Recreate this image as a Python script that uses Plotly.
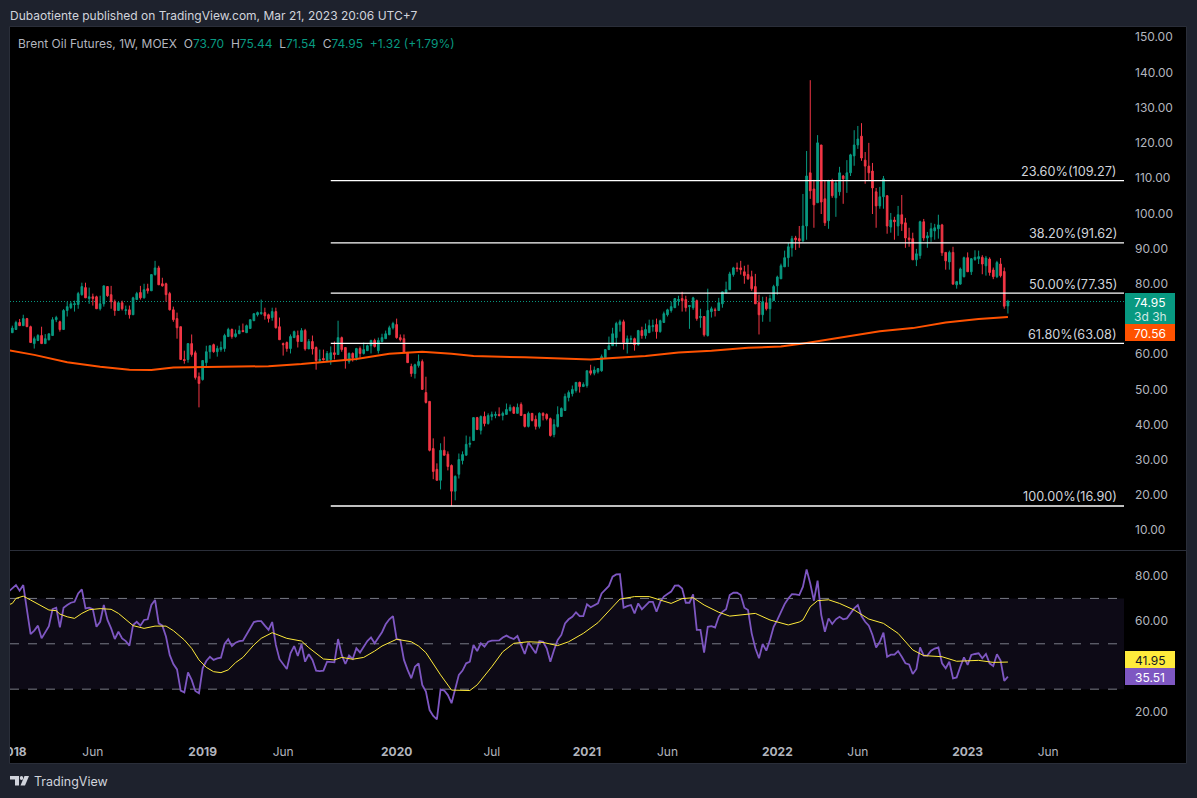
# Brent Oil Futures weekly chart with fib levels, EMA and RSI pane
import pandas as pd
import plotly.graph_objects as go

opens = [
    66.1, 67.0, 69.0, 68.1, 70.1, 67.8, 63.0, 63.9, 65.3, 63.0,
    64.1, 65.3, 69.8, 69.2, 67.0, 72.4, 73.2, 74.1, 74.1, 76.9,
    78.9, 75.8, 76.3, 76.3, 72.9, 74.3, 79.2, 76.9, 74.9, 72.4,
    74.6, 72.4, 72.6, 71.2, 75.5, 77.5, 76.0, 78.6, 78.0, 82.6,
    84.5, 80.0, 80.0, 77.2, 72.6, 70.1, 67.8, 58.5, 58.5, 63.0,
    60.4, 53.6, 52.8, 57.6, 60.7, 62.7, 60.7, 61.3, 61.6, 65.0,
    67.0, 65.0, 65.8, 66.7, 66.1, 67.3, 69.5, 71.2, 71.5, 71.8,
    71.2, 70.4, 72.1, 67.8, 63.0, 63.3, 61.6, 64.7, 65.3,
    63.6, 66.7, 61.5, 63.6, 61.9, 58.2, 58.8, 58.2, 58.5, 60.4,
    59.9, 64.7, 61.9, 57.9, 60.2, 59.0, 61.6, 60.2, 61.0, 62.4,
    63.9, 61.0, 63.6, 64.4, 65.5, 67.5, 68.4, 64.7, 64.4, 60.5,
    56.5, 54.5, 56.8, 57.9, 49.1, 46.6, 33.2, 27.3, 24.2, 32.7,
    31.6, 28.4, 21.1, 25.9, 29.8, 31.3, 34.4, 35.5, 42.0, 38.4,
    42.3, 40.3, 42.3, 42.6, 42.9, 42.6, 42.9, 44.0, 44.9, 43.2,
    45.7, 42.9, 39.5, 43.2, 41.5, 39.5, 43.2, 42.9, 41.7, 37.2,
    39.5, 42.3, 44.0, 47.7, 48.8, 49.7, 52.0, 50.8, 51.1,
    55.3, 54.6, 55.0, 55.3, 59.0, 61.3, 62.4, 64.7, 68.4, 69.2,
    63.3, 64.2, 64.4, 62.7, 66.7, 65.3, 66.1, 67.8, 68.4, 66.4,
    69.0, 71.2, 72.4, 73.2, 75.2, 75.8, 75.5, 73.5, 73.2, 75.2,
    70.4, 70.7, 65.3, 72.1, 72.6, 72.4, 74.3, 77.4, 78.3, 82.6,
    84.5, 84.5, 83.4, 82.6, 82.0, 79.2, 74.6, 71.2, 74.6, 72.9,
    75.2, 79.4, 81.4, 84.8, 87.4, 90.2, 93.0, 92.8, 92.2,
    96.4, 111.5, 106.9, 103.0, 119.4, 104.1, 97.9, 109.2, 104.4, 106.1,
    110.6, 109.5, 111.5, 116.3, 119.4, 121.9, 115.1, 113.4, 112.0, 106.1,
    102.1, 104.7, 105.0, 96.1, 98.1, 96.4, 99.6, 97.3, 93.0, 92.8,
    86.8, 88.0, 97.6, 93.0, 93.3, 95.0, 95.6, 96.7, 88.9, 86.2,
    88.9, 79.7, 79.9, 82.0, 87.4, 83.4, 86.9, 87.1, 87.5, 85.1,
    87.0, 83.9, 82.0, 85.6, 83.5, 73.70,
]
highs = [
    68.1, 69.5, 70.0, 71.2, 70.3, 68.1, 65.0, 65.7, 67.8, 65.7,
    65.8, 70.5, 70.9, 69.5, 72.8, 74.9, 74.9, 75.2, 77.7, 80.3,
    80.3, 78.9, 77.2, 76.6, 76.6, 79.4, 79.2, 79.4, 75.5, 74.9,
    75.2, 73.8, 73.8, 76.3, 77.7, 79.4, 80.0, 80.0, 82.6, 86.5,
    85.1, 81.7, 80.3, 77.7, 73.5, 71.8, 67.8, 61.0, 63.0, 65.6,
    61.0, 54.8, 58.2, 62.4, 62.4, 63.0, 62.4, 63.6, 65.8, 67.5,
    67.3, 67.0, 68.1, 68.7, 68.4, 69.8, 71.5, 72.1, 75.5, 73.2,
    71.5, 73.2, 73.2, 70.4, 63.3, 63.6, 65.6, 66.7, 66.7,
    67.4, 67.2, 64.3, 65.3, 62.2, 61.3, 61.3, 60.9, 62.2, 63.6,
    69.5, 65.0, 61.9, 60.5, 60.5, 61.8, 62.2, 63.3, 62.7, 64.1,
    64.4, 64.7, 65.8, 66.7, 68.1, 69.2, 70.1, 65.6, 65.6, 60.5,
    57.3, 57.3, 59.9, 58.5, 53.6, 46.6, 36.1, 29.0, 34.7, 36.6,
    32.4, 28.7, 25.6, 31.8, 32.4, 36.9, 36.6, 42.1, 42.2, 42.6,
    43.7, 43.2, 43.7, 43.7, 44.9, 43.7, 46.0, 45.7, 45.2, 46.0,
    46.3, 42.9, 43.7, 43.2, 42.6, 43.5, 43.5, 43.2, 42.0, 41.5,
    45.2, 44.9, 48.8, 49.7, 51.1, 52.0, 52.2, 52.0, 55.3,
    57.0, 56.5, 56.0, 59.9, 61.3, 65.0, 67.5, 69.2, 69.8, 69.8,
    65.3, 65.3, 64.7, 66.9, 67.8, 68.7, 69.8, 69.8, 70.1, 69.8,
    72.1, 72.9, 74.9, 75.8, 76.6, 77.7, 76.6, 73.8, 76.3, 75.5,
    72.9, 70.7, 78.6, 73.5, 73.2, 76.0, 77.7, 80.6, 83.4, 84.8,
    86.0, 86.5, 85.1, 85.4, 83.7, 82.8, 76.9, 76.3, 76.3, 76.9,
    79.7, 82.3, 85.7, 89.4, 91.6, 93.6, 93.6, 96.4, 105.5,
    117.7, 137.8, 109.5, 122.2, 119.4, 109.2, 109.5, 109.8, 109.2, 113.2,
    110.9, 115.1, 116.9, 123.6, 124.8, 125.6, 117.4, 120.0, 114.3, 107.2,
    107.5, 110.6, 105.0, 100.1, 99.0, 102.1, 105.2, 98.7, 95.9, 94.5,
    89.9, 97.9, 98.4, 94.7, 97.3, 97.0, 99.6, 97.0, 88.9, 89.4,
    90.5, 80.8, 84.6, 87.7, 88.9, 87.3, 89.5, 89.4, 88.1, 87.9,
    87.5, 84.6, 86.5, 87.3, 84.6, 75.44,
]
lows = [
    66.1, 67.0, 68.1, 68.1, 67.8, 63.3, 61.6, 63.7, 63.0, 63.0,
    63.9, 65.3, 69.1, 66.4, 67.0, 70.7, 72.8, 72.1, 72.9, 76.6,
    76.0, 74.3, 73.8, 72.9, 72.4, 73.5, 76.3, 72.9, 70.9, 72.4,
    72.4, 71.2, 70.1, 71.2, 75.5, 75.5, 75.8, 77.2, 78.0, 82.3,
    79.7, 79.2, 74.9, 72.4, 69.2, 64.4, 58.5, 57.3, 57.6, 59.3,
    52.8, 44.9, 52.5, 56.5, 58.7, 60.4, 59.3, 60.7, 60.7, 65.0,
    64.4, 64.7, 65.8, 66.4, 66.1, 67.3, 69.5, 70.7, 71.2, 69.8,
    69.0, 69.5, 67.3, 64.1, 59.6, 60.7, 60.2, 64.7, 61.9,
    63.6, 61.0, 61.5, 59.9, 55.6, 57.6, 58.2, 57.9, 57.0, 58.5,
    59.9, 60.7, 55.9, 57.3, 57.9, 58.2, 59.0, 59.9, 61.0, 60.2,
    61.9, 60.2, 63.3, 64.4, 65.5, 67.0, 64.4, 63.6, 60.5, 57.6,
    53.6, 53.1, 56.2, 50.0, 46.0, 32.4, 24.5, 24.2, 21.6, 31.3,
    27.0, 16.9, 18.5, 24.7, 28.7, 31.3, 33.5, 35.5, 38.6, 37.2,
    39.5, 40.0, 41.2, 41.8, 42.3, 41.2, 42.9, 43.7, 43.2, 43.2,
    42.6, 39.2, 39.2, 40.9, 38.6, 38.9, 41.2, 41.2, 36.6, 36.4,
    39.2, 42.3, 44.0, 46.6, 48.0, 49.1, 49.1, 50.8, 50.5,
    54.0, 54.0, 54.5, 55.0, 59.0, 61.3, 62.4, 62.2, 66.4, 61.3,
    60.2, 63.0, 61.0, 62.4, 64.4, 64.4, 66.1, 66.4, 64.4, 66.1,
    69.0, 70.7, 71.8, 73.2, 73.8, 72.1, 72.1, 67.2, 72.6, 69.5,
    67.5, 65.0, 65.0, 70.4, 70.7, 72.4, 73.2, 77.4, 78.3, 82.0,
    83.4, 82.6, 80.0, 81.1, 78.0, 74.3, 65.6, 69.2, 72.4, 69.2,
    75.2, 76.9, 81.4, 84.8, 84.8, 87.7, 89.6, 90.2, 91.9,
    92.5, 104.1, 95.9, 103.0, 99.8, 96.4, 95.6, 104.4, 99.0, 105.0,
    102.7, 105.8, 110.6, 113.5, 118.3, 114.9, 108.4, 109.2, 99.8, 95.9,
    101.3, 101.3, 94.2, 94.5, 92.5, 93.6, 95.0, 90.2, 90.5, 86.8,
    85.0, 87.1, 92.2, 90.2, 91.9, 92.5, 92.8, 87.9, 84.0, 84.0,
    79.7, 78.6, 79.7, 81.8, 83.4, 82.5, 86.5, 85.6, 82.7, 82.3,
    82.3, 81.3, 81.6, 81.8, 72.9, 71.54,
]
closes = [
    67.4, 69.0, 68.1, 70.1, 67.8, 63.3, 64.4, 65.3, 63.0, 64.4,
    65.8, 69.8, 70.4, 67.0, 72.4, 73.5, 74.3, 74.3, 77.2, 79.2,
    76.0, 76.3, 75.8, 72.9, 74.3, 79.4, 76.6, 74.9, 72.4, 74.6,
    72.9, 72.6, 71.2, 76.0, 77.2, 76.0, 78.3, 78.0, 82.6, 84.5,
    79.7, 79.4, 76.9, 72.6, 69.8, 67.5, 58.5, 58.2, 63.0, 59.9,
    53.4, 51.7, 58.2, 60.7, 62.4, 60.7, 61.6, 61.9, 65.3, 67.0,
    65.0, 65.8, 66.7, 66.4, 68.1, 69.8, 71.5, 71.8, 71.8, 70.9,
    70.1, 72.1, 67.5, 64.1, 62.7, 61.6, 65.0, 66.4, 63.6,
    66.7, 61.5, 63.6, 61.5, 58.2, 58.5, 58.4, 60.2, 60.4, 59.9,
    64.7, 61.3, 58.2, 60.2, 59.0, 61.6, 60.2, 61.3, 62.4, 63.9,
    62.2, 63.9, 64.7, 65.8, 67.5, 68.7, 64.7, 64.1, 60.5, 57.6,
    54.5, 57.0, 57.9, 50.0, 46.3, 32.7, 26.7, 24.2, 32.7, 31.3,
    28.1, 21.1, 25.3, 30.1, 31.5, 34.4, 34.7, 42.0, 38.6, 42.3,
    40.3, 42.6, 42.9, 42.9, 42.6, 43.2, 44.3, 44.9, 43.2, 44.9,
    42.6, 39.5, 43.2, 41.2, 39.5, 43.2, 42.6, 41.7, 36.9, 40.0,
    42.9, 44.6, 48.0, 49.1, 50.0, 52.0, 50.8, 51.4, 55.3,
    54.6, 55.5, 55.9, 59.3, 61.3, 62.4, 65.8, 68.7, 69.2, 63.3,
    64.4, 64.4, 62.7, 66.7, 65.3, 67.0, 68.1, 68.1, 66.4, 69.5,
    71.5, 72.6, 73.5, 75.8, 75.5, 75.2, 73.2, 73.8, 76.0, 70.1,
    70.7, 65.5, 72.4, 72.9, 72.4, 74.6, 77.7, 78.3, 82.8, 84.5,
    84.3, 84.0, 82.3, 81.4, 78.6, 74.3, 71.2, 74.9, 72.9, 75.8,
    79.2, 81.9, 85.1, 87.4, 90.5, 92.8, 92.5, 92.2, 96.4,
    110.6, 106.4, 102.4, 120.0, 103.2, 97.3, 109.2, 105.0, 108.6, 111.5,
    109.8, 111.5, 116.6, 119.4, 121.1, 115.7, 113.4, 111.5, 107.2, 102.1,
    104.7, 109.8, 96.4, 98.1, 97.6, 99.6, 97.0, 93.0, 92.5, 86.8,
    88.5, 97.6, 93.0, 93.6, 95.6, 95.9, 96.7, 88.8, 86.5, 88.9,
    79.9, 80.6, 84.2, 87.4, 83.4, 87.1, 87.5, 87.7, 85.6, 87.3,
    83.2, 82.0, 86.0, 82.3, 73.63, 74.95,
]
rsi = [
    74.4, 75.9, 73.4, 75.9, 64.9, 54.3, 55.8, 58.0, 52.4, 54.9,
    57.8, 65.3, 65.9, 57.2, 65.9, 67.1, 68.1, 68.5, 72.2, 74.0,
    65.6, 65.9, 65.3, 57.5, 59.7, 67.1, 60.5, 56.8, 52.1, 55.3,
    52.4, 51.2, 49.2, 58.3, 59.7, 58.0, 60.5, 60.8, 67.1, 69.3,
    59.0, 58.0, 53.1, 45.1, 41.1, 38.7, 29.4, 28.6, 37.4, 34.1,
    29.2, 28.2, 39.2, 42.4, 44.3, 42.9, 43.6, 43.9, 49.9, 52.0,
    49.0, 50.5, 51.2, 51.4, 54.3, 57.1, 59.6, 60.0, 60.0, 58.0,
    56.1, 59.6, 49.5, 43.2, 41.1, 38.9, 45.8, 49.0, 44.6, 49.8,
    42.1, 45.4, 42.9, 38.2, 38.0, 38.2, 42.1, 42.1, 41.8, 52.1,
    45.1, 41.1, 44.8, 43.3, 48.0, 46.2, 49.0, 51.2, 52.8, 50.2,
    52.7, 55.1, 58.6, 60.8, 62.2, 52.1, 51.7,
    42.9, 38.5, 34.8, 39.9, 41.4, 31.9, 28.9, 20.8, 18.2, 16.7,
    29.9, 29.4, 27.4, 23.8, 30.4, 36.3, 38.2, 41.4, 42.1, 49.5,
    46.8, 50.2, 48.7, 50.9, 51.4, 51.5, 51.5, 52.8, 53.6, 52.7,
    52.1, 53.4, 49.0, 45.5, 50.6, 48.0, 45.8, 51.2, 50.9, 48.0,
    42.1, 47.3, 51.7, 53.9, 59.0, 60.8, 61.9, 63.9, 62.2, 62.2,
    67.4, 66.1, 66.9, 67.8, 72.2, 74.1, 75.5, 79.6, 80.6, 80.7,
    65.9, 66.6, 67.1, 63.4, 67.8, 65.2, 67.1, 68.5, 68.5, 64.1,
    68.5, 70.8, 71.9, 73.0, 75.6, 75.7, 74.4, 68.1, 68.1, 71.8,
    56.1, 56.1, 46.1, 57.5, 57.8, 57.2, 61.9, 64.1, 65.2, 71.5,
    72.5, 72.5, 71.5, 65.9, 64.9, 54.6, 48.0, 43.6, 49.9, 47.0,
    51.7, 57.5, 60.5, 64.1, 67.5, 70.0, 71.9, 71.8, 71.5,
    75.2, 82.8, 76.6, 69.0, 77.8, 62.7, 55.3, 61.2, 58.7, 60.8,
    61.9, 60.8, 61.2, 63.4, 65.6, 67.1, 62.2, 59.7, 58.0, 53.9,
    48.4, 50.9, 54.9, 44.3, 45.2, 45.2, 46.8, 44.3, 41.4, 40.9,
    36.7, 38.9, 48.4, 44.8, 44.8, 47.0, 47.9, 48.4, 41.4, 39.2,
    42.1, 34.8, 35.2, 39.9, 44.0, 40.7, 45.1, 45.5, 45.8, 43.6,
    45.5, 41.4, 40.2, 45.4, 42.6, 33.7, 35.51,
]
rsi_before = 73.0  # bar just left of the chart edge

# smooth lines, read at the weeks where they could be read
ema_weeks = [-1, 0, 6, 15, 24, 32, 38, 44, 51, 60, 70, 79, 85, 94, 103, 108, 112, 120, 126,
             140, 149, 158, 164, 173, 182, 191, 201, 210, 217, 223, 230, 237, 246, 251,
             255, 264, 272]
ema_values = [61.1, 60.9, 59.8, 57.7, 56.4, 55.6, 55.5, 56.2, 56.3, 56.4, 56.6, 57.2, 57.7, 58.6, 60.1,
              60.5, 60.7, 60.1, 59.5, 59.1, 58.7, 58.5, 58.9, 59.5, 60.5, 61.0, 61.8, 62.2,
              63.2, 64.2, 65.3, 66.5, 67.4, 68.4, 69.0, 70.0, 70.56]
rsi_ma_weeks = [-1, 0, 1, 3, 5, 7, 9, 10, 12, 13, 15, 17, 19, 21, 24, 27, 29, 31, 33, 36, 39, 42, 44,
                47, 49, 51, 53, 55, 57, 59, 61, 63, 66, 68, 71, 75, 79, 81, 85, 88, 90, 93, 96,
                99, 101, 105, 109, 111, 113, 117, 120, 125, 127, 131, 134, 137, 141, 145, 149,
                152, 156, 160, 166, 170, 174, 180, 183, 186, 189, 193, 196, 203, 207, 212, 215,
                216, 218, 220, 223, 226, 230, 234, 238, 242, 246, 249, 254, 258, 264, 268, 272]
rsi_ma_values = [67.2, 67.8, 70.0, 71.0, 69.3, 67.4, 65.6, 64.9, 64.6, 63.1, 61.9, 61.2, 63.4, 65.0, 65.5,
                 65.2, 63.4, 60.5, 58.0, 56.8, 57.8, 57.8, 55.8, 51.7, 48.0, 42.9, 39.6, 37.7,
                 37.3, 38.5, 41.7, 44.0, 49.5, 52.4, 54.9, 52.4, 51.2, 48.3, 43.3, 42.9, 44.0,
                 43.2, 44.0, 46.8, 49.0, 52.0, 50.9, 49.0, 46.1, 36.3, 29.6, 29.4, 31.9, 39.9,
                 46.5, 50.2, 50.9, 50.6, 49.2, 50.9, 54.6, 59.3, 69.7, 70.8, 70.8, 67.8, 69.9,
                 70.3, 67.1, 63.9, 62.2, 63.4, 60.5, 58.3, 59.6, 60.5, 66.3, 69.0, 69.4, 67.8,
                 64.9, 60.9, 59.0, 54.6, 47.3, 44.8, 44.3, 42.3, 42.7, 41.8, 41.95]

fib_levels = [109.27, 91.62, 77.35, 63.08, 16.90]
fib_labels = ["23.60%(109.27)", "38.20%(91.62)", "50.00%(77.35)", "61.80%(63.08)", "100.00%(16.90)"]
price_ticks = [150, 140, 130, 120, 110, 100, 90, 80, 60, 50, 40, 30, 20, 10]
rsi_ticks = [80, 60, 20]
rsi_levels = [70, 50, 30]
time_ticks = ["2018-01-01", "2018-06-04", "2018-12-31", "2019-06-03", "2020-01-06", "2020-07-06",
              "2021-01-04", "2021-06-07", "2022-01-03", "2022-06-06", "2023-01-02", "2023-06-05"]
time_labels = ["<b>2018</b>", "Jun", "<b>2019</b>", "Jun", "<b>2020</b>", "Jul",
               "<b>2021</b>", "Jun", "<b>2022</b>", "Jun", "<b>2023</b>", "Jun"]

assert len(opens) == len(highs) == len(lows) == len(closes) == len(rsi) == 273
assert len(ema_weeks) == len(ema_values) and len(rsi_ma_weeks) == len(rsi_ma_values)

W, H = 1197, 798
BG = "#1e222d"
BORDER = "#2a2e39"
UP = "#089981"
DOWN = "#f23645"
TEXT = "#b2b5be"
MARK = "#d1d4dc"
FONT = "Inter"


def xp(px):
    return px / W


def yp(py):
    return 1 - py / H


first_week = pd.Timestamp("2018-01-01")
dates = pd.date_range(first_week, periods=len(closes), freq="7D")
ema_dates = [first_week + pd.Timedelta(weeks=i) for i in ema_weeks]
ma_dates = [first_week + pd.Timedelta(weeks=i) for i in rsi_ma_weeks]
rsi_dates = [first_week - pd.Timedelta(weeks=1)] + list(dates)
x_start = first_week - pd.Timedelta(days=4.4)
x_end = first_week + pd.Timedelta(days=2126)
fib_start = dates[87]

fig = go.Figure()
fig.add_trace(go.Candlestick(
    x=dates, open=opens, high=highs, low=lows, close=closes,
    increasing=dict(line=dict(color=UP, width=1), fillcolor=UP),
    decreasing=dict(line=dict(color=DOWN, width=1), fillcolor=DOWN),
    xaxis="x", yaxis="y",
))
fig.add_trace(go.Scatter(x=ema_dates, y=ema_values, mode="lines",
                         line=dict(color="#ff5200", width=2), xaxis="x", yaxis="y"))
for level in fib_levels:
    fig.add_trace(go.Scatter(x=[fib_start, x_end], y=[level, level], mode="lines",
                             line=dict(color="#ffffff", width=1.3), xaxis="x", yaxis="y"))
fig.add_trace(go.Scatter(x=rsi_dates, y=[rsi_before] + rsi, mode="lines",
                         line=dict(color="#7e57c2", width=1.8), xaxis="x", yaxis="y2"))
fig.add_trace(go.Scatter(x=ma_dates, y=rsi_ma_values, mode="lines",
                         line=dict(color="#ffeb3b", width=1), xaxis="x", yaxis="y2"))

shapes = [
    # black chart panel and pane separator
    dict(type="rect", xref="paper", yref="paper", x0=xp(9.5), x1=xp(1186.5), y0=yp(763.5), y1=yp(26.5),
         fillcolor="#000000", line=dict(color=BORDER, width=1), layer="below"),
    dict(type="line", xref="paper", yref="paper", x0=xp(10), x1=xp(1186), y0=yp(550.5), y1=yp(550.5),
         line=dict(color=BORDER, width=1), layer="above"),
    # last price
    dict(type="line", xref="paper", yref="y", x0=xp(10), x1=xp(1124), y0=closes[-1], y1=closes[-1],
         line=dict(color=UP, width=1, dash="1px,2px"), layer="below"),
    # RSI band
    dict(type="rect", xref="paper", yref="y2", x0=xp(10), x1=xp(1124), y0=rsi_levels[2], y1=rsi_levels[0],
         fillcolor="#0d0a16", line=dict(width=0), layer="below"),
    # clips the first time label at the panel edge
    dict(type="rect", xref="paper", yref="paper", x0=0, x1=xp(9), y0=yp(763), y1=yp(735),
         fillcolor=BG, line=dict(width=0), layer="above"),
    dict(type="line", xref="paper", yref="paper", x0=xp(9.5), x1=xp(9.5), y0=yp(763), y1=yp(735),
         line=dict(color=BORDER, width=1), layer="above"),
]
for level in rsi_levels:
    shapes.append(dict(type="line", xref="paper", yref="y2", x0=xp(10), x1=xp(1124), y0=level, y1=level,
                       line=dict(color="#787b86", width=1, dash="dash"), layer="below"))

# price scale tags
tags = [
    (293, 324, UP),
    (324, 341, "#ff5200"),
    (651, 668, "#ffeb3b"),
    (668, 685, "#7e57c2"),
]
for top, bottom, color in tags:
    shapes.append(dict(type="rect", xref="paper", yref="paper", x0=xp(1125), x1=xp(1175),
                       y0=yp(bottom), y1=yp(top), fillcolor=color, line=dict(width=0), layer="above"))

# TradingView mark
shapes.append(dict(type="rect", xref="paper", yref="paper", x0=xp(10), x1=xp(19), y0=yp(779.5), y1=yp(776),
                   fillcolor=MARK, line=dict(width=0)))
shapes.append(dict(type="rect", xref="paper", yref="paper", x0=xp(15), x1=xp(19), y0=yp(785.5), y1=yp(776),
                   fillcolor=MARK, line=dict(width=0)))
shapes.append(dict(type="circle", xref="paper", yref="paper", x0=xp(19.8), x1=xp(23.2), y0=yp(780), y1=yp(776),
                   fillcolor=MARK, line=dict(width=0)))
shapes.append(dict(type="path", xref="paper", yref="paper",
                   path=f"M {xp(24.5)} {yp(776)} L {xp(29)} {yp(776)} L {xp(25)} {yp(785.5)} L {xp(20.5)} {yp(785.5)} Z",
                   fillcolor=MARK, line=dict(width=0)))


def note(text, px, py, anchor="left", size=12, color=TEXT, yref="paper", y=None, yanchor="middle", yshift=0):
    return dict(text=text, x=xp(px), y=yp(py) if y is None else y, xref="paper", yref=yref,
                xanchor=anchor, yanchor=yanchor, showarrow=False, align=anchor, yshift=yshift,
                font=dict(family=FONT, size=size, color=color), borderpad=0, borderwidth=0)


green = f'<span style="color:{UP}">'
gap = "&nbsp;&nbsp;"
legend = (f"Brent Oil Futures, 1W, MOEX{gap}O{green}73.70</span>{gap}H{green}75.44</span>"
          f"{gap}L{green}71.54</span>{gap}C{green}74.95</span>"
          f"{gap}{green}+1.32 (+1.79%)</span>")
annotations = [
    note("Dubaotiente published on TradingView.com, Mar 21, 2023 20:06 UTC+7", 10, 15, color="#d1d4dc"),
    note(legend, 18, 43),
    note("TradingView", 34, 781, size=12.5, color=MARK),
    note("74.95", 1150, 302, anchor="center", color="#ffffff"),
    note("3d 3h", 1150, 316, anchor="center", color="#cfe9e3"),
    note("70.56", 1150, 333, anchor="center", color="#ffffff"),
    note("41.95", 1150, 660, anchor="center", color="#131722"),
    note("35.51", 1150, 677, anchor="center", color="#ffffff"),
]
for level, label in zip(fib_levels, fib_labels):
    annotations.append(note(label, 1117, None, anchor="right", size=12.7, color="#d1d4dc",
                            yref="y", y=level, yanchor="bottom", yshift=1.5))

fig.update_layout(
    width=W, height=H,
    margin=dict(l=0, r=0, t=0, b=0, autoexpand=False),
    paper_bgcolor=BG, plot_bgcolor="#000000",
    showlegend=False,
    boxgap=0.35,
    shapes=shapes,
    annotations=annotations,
    xaxis=dict(
        domain=[xp(10), xp(1124)], anchor="y2", range=[x_start, x_end], type="date",
        rangeslider=dict(visible=False), showgrid=False, zeroline=False, showline=False,
        tickmode="array", tickvals=time_ticks, ticktext=time_labels, ticks="",
        ticklabelstandoff=8, ticklabeloverflow="allow",
        tickfont=dict(family=FONT, size=12, color=TEXT),
    ),
    yaxis=dict(
        domain=[yp(550), yp(27)], range=[4.4, 152.9], side="right", anchor="x",
        showgrid=False, zeroline=False, showline=False, ticks="",
        tickmode="array", tickvals=price_ticks, tickformat=".2f", ticklabelstandoff=10,
        tickfont=dict(family=FONT, size=12, color=TEXT),
    ),
    yaxis2=dict(
        domain=[yp(735), yp(551)], range=[9.8, 90.9], side="right", anchor="x",
        showgrid=False, zeroline=False, showline=False, ticks="",
        tickmode="array", tickvals=rsi_ticks, tickformat=".2f", ticklabelstandoff=10,
        tickfont=dict(family=FONT, size=12, color=TEXT),
    ),
)

fig.write_html("out.html", config={"displayModeBar": False}, post_script="document.body.style.margin='0';")
